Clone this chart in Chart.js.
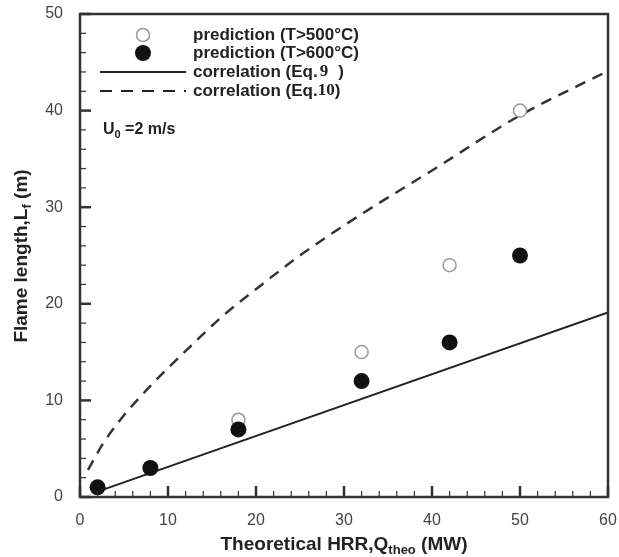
<!DOCTYPE html>
<html>
<head>
<meta charset="utf-8">
<script src="https://cdn.jsdelivr.net/npm/chart.js@4"></script>
<style>
  html, body { margin: 0; padding: 0; background: #fff; }
  #grafico { display: block; }
</style>
</head>
<body>
<canvas id="grafico" width="619" height="557"></canvas>
<script>
// Datos de la figura: longitud de llama frente al HRR teórico
const hrrPred = [2, 8, 18, 32, 42, 50];
const llama500 = [1, 3, 8, 15, 24, 40];
const llama600 = [1, 3, 7, 12, 16, 25];

// Correlación Eq. 9 (recta)
const eq9X = [1.5, 60];
const eq9Y = [0.4, 19.1];

// Correlación Eq. 10 (curva)
const eq10X = [0.9, 2.6, 4.5, 7.9, 12.1, 16.3, 20.4, 25.3, 32.2, 40, 50, 60];
const eq10Y = [2.8, 5.5, 7.9, 11.4, 15.2, 18.8, 21.8, 25.2, 29.4, 33.8, 39.5, 44.1];

const ticksX = [0, 10, 20, 30, 40, 50, 60];
const ticksY = [0, 10, 20, 30, 40, 50];

const aPuntos = (xs, ys) => xs.map((x, i) => ({ x: x, y: ys[i] }));

const colorEje = '#333333';
const fuente = "'Liberation Sans', Arial, sans-serif";
const fuenteSerif = "'Liberation Serif', 'Times New Roman', serif";

// Texto con subíndice: partes [texto, esSub]
function anchoPartes(ctx, partes, tam, tamSub) {
    let w = 0;
    partes.forEach(([t, sub]) => {
        ctx.font = `bold ${sub ? tamSub : tam}px ${fuente}`;
        w += ctx.measureText(t).width;
    });
    return w;
}

function dibujarPartes(ctx, partes, x, y, tam, tamSub) {
    partes.forEach(([t, sub]) => {
        ctx.font = `bold ${sub ? tamSub : tam}px ${fuente}`;
        ctx.fillText(t, x, sub ? y + tam * 0.3 : y);
        x += ctx.measureText(t).width;
    });
}

const pluginMarco = {
    id: 'marco',
    afterDraw(chart) {
        const { ctx, chartArea: a } = chart;
        const sx = chart.scales.x, sy = chart.scales.y;
        ctx.save();

        // marcas hacia dentro en los ejes izquierdo e inferior
        ctx.strokeStyle = colorEje;
        for (let v = 0; v <= 60; v += 2) {
            const px = sx.getPixelForValue(v);
            const mayor = v % 10 === 0;
            ctx.lineWidth = mayor ? 2.5 : 1.2;
            ctx.beginPath();
            ctx.moveTo(px, a.bottom);
            ctx.lineTo(px, a.bottom - (mayor ? 11 : 6));
            ctx.stroke();
        }
        for (let v = 0; v <= 50; v += 2) {
            const py = sy.getPixelForValue(v);
            const mayor = v % 10 === 0;
            ctx.lineWidth = mayor ? 2.5 : 1.2;
            ctx.beginPath();
            ctx.moveTo(a.left, py);
            ctx.lineTo(a.left + (mayor ? 11 : 6), py);
            ctx.stroke();
        }

        // marco
        ctx.lineWidth = 2.5;
        ctx.strokeRect(a.left, a.top, a.right - a.left, a.bottom - a.top);

        // leyenda
        ctx.fillStyle = '#222';
        ctx.textBaseline = 'middle';
        ctx.textAlign = 'left';
        const xl = 193;
        ctx.beginPath();
        ctx.arc(143, 35, 6.5, 0, Math.PI * 2);
        ctx.fillStyle = '#fff';
        ctx.fill();
        ctx.strokeStyle = '#999';
        ctx.lineWidth = 1.5;
        ctx.stroke();
        ctx.beginPath();
        ctx.arc(143, 53, 8, 0, Math.PI * 2);
        ctx.fillStyle = '#111';
        ctx.fill();

        ctx.strokeStyle = '#222';
        ctx.lineWidth = 2;
        ctx.beginPath();
        ctx.moveTo(100, 72);
        ctx.lineTo(186, 72);
        ctx.stroke();
        ctx.setLineDash([12, 9]);
        ctx.beginPath();
        ctx.moveTo(100, 91);
        ctx.lineTo(186, 91);
        ctx.stroke();
        ctx.setLineDash([]);

        ctx.fillStyle = '#222';
        ctx.font = `bold 17px ${fuente}`;
        ctx.fillText('prediction (T>500°C)', xl, 35);
        ctx.fillText('prediction (T>600°C)', xl, 53);
        let w = ctx.measureText('correlation (Eq.').width;
        ctx.fillText('correlation (Eq.', xl, 72);
        ctx.fillText('correlation (Eq.', xl, 91);
        ctx.font = `bold 17px ${fuenteSerif}`;
        ctx.fillText('9', xl + w + 2, 72);
        const w10 = ctx.measureText('10').width;
        ctx.fillText('10', xl + w, 91);
        const w9 = ctx.measureText('9').width;
        ctx.font = `bold 17px ${fuente}`;
        ctx.fillText(')', xl + w + w9 + 12, 72);
        ctx.fillText(')', xl + w + w10, 91);

        // velocidad
        dibujarPartes(ctx, [['U', false], ['0', true], [' =2 m/s', false]], 103, 130, 16, 11);

        // título eje x
        const tx = [['Theoretical HRR,Q', false], ['theo', true], [' (MW)', false]];
        const wx = anchoPartes(ctx, tx, 19, 13);
        dibujarPartes(ctx, tx, (a.left + a.right) / 2 - wx / 2, 545, 19, 13);

        // título eje y
        const ty = [['Flame length,L', false], ['f', true], [' (m)', false]];
        const wy = anchoPartes(ctx, ty, 19, 13);
        ctx.translate(22, 256);
        ctx.rotate(-Math.PI / 2);
        dibujarPartes(ctx, ty, -wy / 2, 0, 19, 13);

        ctx.restore();
    }
};

new Chart(document.getElementById('grafico'), {
    type: 'scatter',
    data: {
        datasets: [
            {
                label: 'prediction (T>600°C)',
                data: aPuntos(hrrPred, llama600),
                pointRadius: 8,
                pointBackgroundColor: '#111',
                pointBorderColor: '#111',
                pointBorderWidth: 0,
                clip: false
            },
            {
                label: 'prediction (T>500°C)',
                data: aPuntos(hrrPred, llama500),
                pointRadius: 6.5,
                pointBackgroundColor: '#fff',
                pointBorderColor: '#999',
                pointBorderWidth: 1.5,
                clip: false
            },
            {
                label: 'correlation (Eq.9)',
                type: 'line',
                data: aPuntos(eq9X, eq9Y),
                borderColor: '#222',
                borderWidth: 2,
                pointRadius: 0,
                fill: false
            },
            {
                label: 'correlation (Eq.10)',
                type: 'line',
                data: aPuntos(eq10X, eq10Y),
                borderColor: '#333',
                borderWidth: 2.5,
                borderDash: [11, 8],
                cubicInterpolationMode: 'monotone',
                pointRadius: 0,
                fill: false
            }
        ]
    },
    options: {
        responsive: false,
        animation: false,
        devicePixelRatio: 1,
        layout: { padding: { top: 14, right: 11, left: 0, bottom: 0 } },
        plugins: {
            legend: { display: false },
            tooltip: { enabled: false }
        },
        scales: {
            x: {
                type: 'linear',
                min: 0,
                max: 60,
                afterFit(s) {
                    s.height = 60;
                    s.paddingLeft = 0;
                    s.paddingRight = 0;
                },
                afterBuildTicks(s) { s.ticks = ticksX.map(v => ({ value: v })); },
                grid: { display: false },
                border: { display: false },
                ticks: {
                    padding: 6,
                    color: '#444',
                    font: { family: fuente, size: 16 }
                }
            },
            y: {
                type: 'linear',
                min: 0,
                max: 50,
                afterFit(s) {
                    s.width = 80;
                    s.paddingTop = 0;
                    s.paddingBottom = 0;
                },
                afterBuildTicks(s) { s.ticks = ticksY.map(v => ({ value: v })); },
                grid: { display: false },
                border: { display: false },
                ticks: {
                    padding: 9,
                    color: '#444',
                    font: { family: fuente, size: 16 }
                }
            }
        }
    },
    plugins: [pluginMarco]
});
</script>
</body>
</html>
